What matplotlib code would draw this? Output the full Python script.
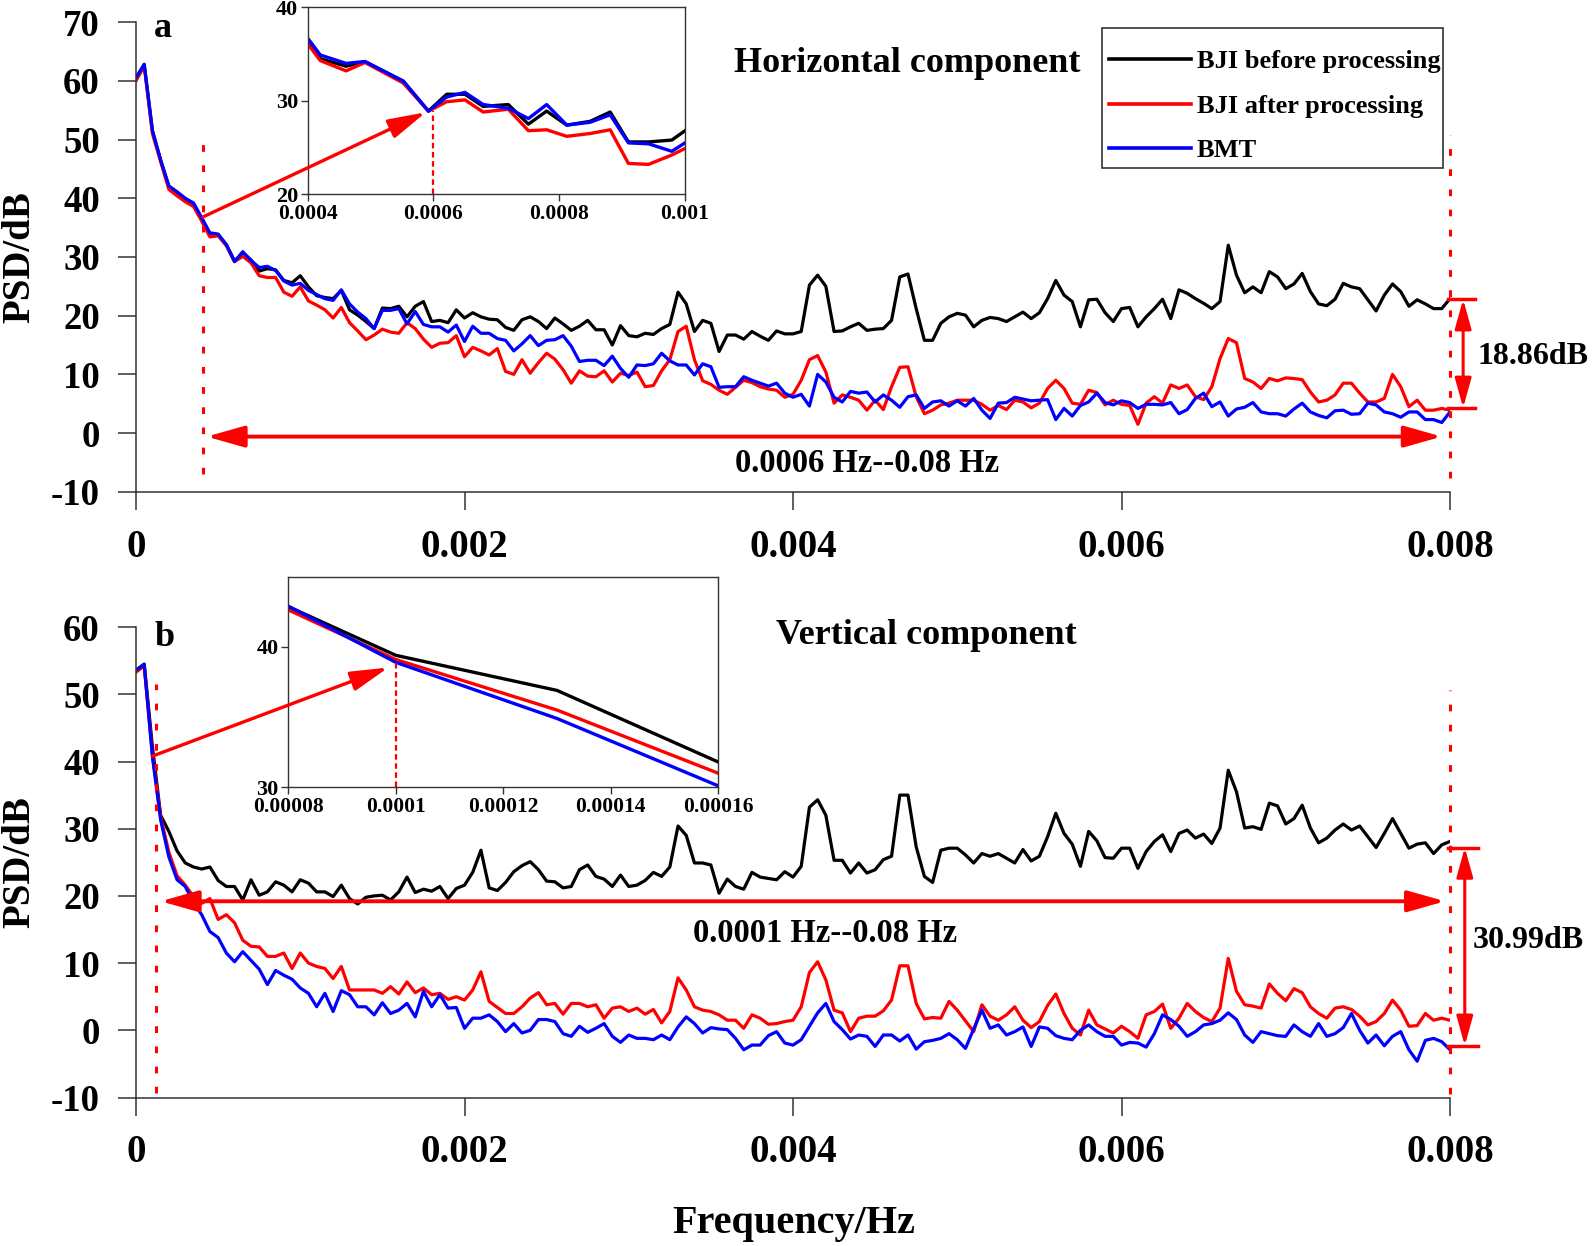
import numpy as np
import matplotlib
matplotlib.use('Agg')
import matplotlib.pyplot as plt
from matplotlib.patches import ConnectionPatch, FancyArrowPatch, Rectangle
from matplotlib.lines import Line2D

plt.rcParams['font.family'] = ['Liberation Serif', 'DejaVu Serif']
plt.rcParams['font.weight'] = 'bold'
plt.rcParams['axes.labelweight'] = 'bold'

# ---------------- data ----------------
FREQ_STEP = 0.00005  # Hz between spectral points

series_labels = ['BJI before processing', 'BJI after processing', 'BMT']

# Panel a: horizontal component
h_before = [
    60.5, 62.8, 51.5, 46.5, 42.0, 41.0, 39.8, 39.0, 36.5, 33.8,
    33.8, 32.1, 29.3, 30.7, 29.5, 27.6, 28.0, 27.8, 26.0, 25.6,
    26.8, 24.9, 23.4, 23.1, 22.9, 24.3, 21.0, 20.1, 19.0, 17.8,
    21.3, 21.2, 21.6, 19.8, 21.6, 22.4, 19.0, 19.2, 18.8, 21.0,
    19.6, 20.5, 19.8, 19.4, 19.3, 18.0, 17.5, 19.3, 19.8, 19.0,
    17.8, 19.6, 18.6, 17.5, 18.2, 19.2, 17.6, 17.6, 15.0, 18.3,
    16.6, 16.4, 17.0, 16.8, 17.8, 18.5, 24.0, 22.0, 17.3, 19.2,
    18.7, 13.9, 16.7, 16.7, 16.0, 17.3, 16.5, 15.8, 17.4, 16.9,
    16.9, 17.3, 25.2, 26.9, 25.0, 17.3, 17.4, 18.1, 18.7, 17.5,
    17.7, 17.8, 19.2, 26.6, 27.1, 21.2, 15.8, 15.8, 18.7, 19.8,
    20.4, 20.1, 18.1, 19.2, 19.7, 19.5, 19.0, 19.8, 20.6, 19.5,
    20.5, 22.9, 26.0, 23.5, 22.4, 18.1, 22.7, 22.8, 20.5, 19.0,
    21.2, 21.4, 18.1, 19.8, 21.2, 22.8, 19.5, 24.4, 23.8, 22.9,
    22.1, 21.2, 22.4, 32.0, 26.9, 23.9, 24.9, 23.9, 27.5, 26.6,
    24.6, 25.4, 27.2, 24.1, 22.0, 21.7, 22.8, 25.5, 24.9, 24.6,
    22.7, 20.8, 23.5, 25.4, 24.1, 21.6, 22.7, 22.0, 21.2, 21.2,
    22.9]
h_after = [
    60.0, 62.5, 51.0, 46.2, 41.5, 40.4, 39.4, 38.6, 36.1, 33.4,
    33.6, 31.9, 29.2, 30.1, 29.0, 26.8, 26.5, 26.5, 24.0, 23.3,
    24.9, 22.5, 21.8, 21.0, 19.6, 21.4, 18.8, 17.4, 15.9, 16.7,
    17.7, 17.2, 17.0, 18.8, 17.8, 16.0, 14.6, 15.3, 15.4, 16.6,
    13.0, 14.6, 14.0, 13.3, 14.4, 10.5, 10.0, 12.5, 10.2, 12.0,
    13.6, 12.6, 10.8, 8.5, 10.6, 9.7, 9.6, 10.6, 8.7, 10.2,
    9.8, 10.4, 7.9, 8.1, 10.6, 12.5, 17.3, 18.2, 12.5, 8.9,
    8.3, 7.3, 6.6, 7.8, 9.0, 8.6, 7.9, 7.5, 7.3, 6.1,
    6.6, 9.0, 12.5, 13.2, 10.4, 5.1, 6.5, 6.1, 5.6, 3.9,
    5.6, 4.0, 7.9, 11.2, 11.3, 6.2, 3.3, 3.9, 4.8, 5.1,
    5.6, 5.6, 5.6, 4.9, 3.9, 4.7, 4.0, 5.6, 5.3, 4.3,
    5.1, 7.6, 9.0, 7.6, 5.1, 4.9, 7.3, 6.9, 4.8, 5.6,
    4.9, 4.7, 1.5, 5.1, 6.2, 5.1, 8.2, 7.6, 8.2, 6.2,
    5.7, 7.9, 12.7, 16.1, 15.4, 9.3, 8.7, 7.6, 9.3, 8.9,
    9.4, 9.3, 9.1, 7.0, 5.3, 5.6, 6.5, 8.5, 8.5, 6.8,
    5.3, 5.3, 5.9, 10.0, 7.9, 4.5, 5.6, 3.9, 3.9, 4.2,
    3.9]
h_bmt = [
    60.5, 62.8, 51.5, 46.5, 42.1, 41.1, 40.0, 39.2, 36.7, 34.1,
    33.9, 32.1, 29.2, 30.9, 29.4, 28.2, 28.4, 27.7, 25.9, 25.2,
    25.5, 24.3, 23.6, 22.9, 22.6, 24.4, 22.0, 20.6, 19.5, 17.8,
    20.9, 20.9, 21.2, 18.6, 20.7, 18.5, 18.1, 18.1, 17.2, 18.4,
    15.6, 18.2, 17.0, 17.0, 16.1, 15.8, 14.0, 15.2, 16.6, 14.9,
    15.8, 15.9, 16.6, 14.8, 12.2, 12.4, 12.4, 11.5, 13.1, 11.0,
    9.5, 11.6, 11.5, 11.8, 13.6, 12.3, 11.6, 11.6, 9.9, 11.8,
    11.3, 7.8, 7.9, 7.9, 9.6, 9.0, 8.5, 8.0, 8.5, 6.8,
    6.1, 6.6, 4.6, 10.0, 8.7, 6.1, 5.3, 7.1, 6.8, 7.0,
    5.3, 6.5, 5.6, 4.4, 6.2, 6.5, 4.2, 5.3, 5.5, 4.6,
    5.5, 4.6, 5.9, 3.9, 2.5, 5.1, 5.2, 6.1, 5.8, 5.5,
    5.6, 5.7, 2.3, 4.2, 2.9, 4.7, 5.3, 6.8, 5.2, 4.8,
    5.5, 5.2, 4.2, 4.9, 4.9, 4.8, 5.2, 3.3, 4.0, 5.9,
    6.8, 4.5, 5.3, 2.9, 4.1, 4.4, 5.2, 3.6, 3.3, 3.3,
    2.9, 4.1, 5.1, 3.6, 3.0, 2.6, 3.8, 3.9, 3.2, 3.3,
    5.1, 4.8, 3.6, 3.3, 2.7, 3.6, 3.6, 2.3, 2.3, 1.8,
    3.6]

# Panel b: vertical component
v_before = [
    53.6, 54.5, 42.2, 32.0, 29.6, 26.7, 24.9, 24.3, 24.0, 24.3,
    22.3, 21.4, 21.4, 19.4, 22.4, 20.1, 20.6, 22.1, 21.6, 20.6,
    22.4, 21.9, 20.6, 20.6, 19.9, 21.6, 19.6, 18.8, 19.8, 20.0,
    20.1, 19.4, 20.6, 22.8, 20.5, 21.0, 20.7, 21.4, 19.6, 21.1,
    21.6, 23.5, 26.8, 21.2, 20.8, 22.0, 23.6, 24.5, 25.1, 23.9,
    22.2, 22.1, 21.2, 21.4, 23.9, 24.6, 22.9, 22.5, 21.4, 23.1,
    21.4, 21.6, 22.3, 23.5, 22.9, 24.3, 30.4, 29.0, 24.9, 24.9,
    24.6, 20.4, 22.5, 21.4, 21.0, 23.5, 22.8, 22.6, 22.4, 23.6,
    22.8, 24.4, 33.2, 34.3, 32.0, 25.3, 25.3, 23.4, 24.9, 23.4,
    23.9, 25.4, 25.9, 35.0, 35.0, 27.3, 22.9, 22.0, 26.8, 27.1,
    27.1, 26.1, 24.9, 26.3, 25.9, 26.3, 25.6, 24.9, 26.9, 25.2,
    25.9, 28.8, 32.3, 29.3, 27.7, 24.4, 29.6, 28.2, 25.7, 25.6,
    27.1, 27.1, 24.1, 26.6, 28.1, 29.1, 26.6, 29.3, 29.8, 28.6,
    29.2, 27.8, 30.1, 38.7, 35.5, 30.1, 30.3, 29.9, 33.8, 33.4,
    30.7, 31.5, 33.5, 30.1, 27.9, 28.6, 29.8, 30.7, 29.8, 30.4,
    28.8, 27.2, 29.3, 31.5, 29.3, 27.1, 27.7, 27.9, 26.3, 27.6,
    28.1]
v_after = [
    53.3, 54.2, 41.0, 31.8, 26.5, 23.0, 21.6, 19.9, 18.9, 19.6,
    16.5, 17.2, 16.0, 13.4, 12.5, 12.4, 11.0, 11.0, 11.5, 9.2,
    11.5, 10.0, 9.5, 9.2, 7.7, 9.5, 6.0, 6.0, 6.0, 6.0,
    5.5, 6.5, 5.4, 7.2, 5.6, 6.3, 5.3, 5.5, 4.6, 5.0,
    4.5, 6.0, 8.7, 4.3, 3.4, 2.5, 2.5, 3.5, 4.8, 5.6,
    3.8, 4.0, 2.4, 4.0, 4.0, 3.5, 3.8, 1.8, 3.3, 3.5,
    2.8, 3.3, 2.4, 3.1, 1.1, 2.8, 7.8, 6.0, 3.5, 3.0,
    2.8, 2.3, 1.5, 1.5, 0.3, 2.3, 1.8, 0.9, 1.0, 1.3,
    1.5, 3.5, 8.6, 10.2, 7.5, 3.0, 2.6, -0.2, 1.8, 2.1,
    2.1, 2.9, 4.5, 9.6, 9.6, 4.0, 1.7, 1.9, 1.8, 4.3,
    3.0, 1.4, -0.2, 3.8, 2.1, 1.5, 2.3, 3.5, 1.5, 0.4,
    1.3, 3.7, 5.4, 2.5, 0.3, -0.7, 3.0, 0.8, 0.2, -0.4,
    0.6, -0.2, -1.2, 2.3, 2.8, 3.9, 0.3, 1.8, 4.0, 2.8,
    1.9, 1.3, 3.3, 10.7, 5.8, 3.8, 3.6, 3.3, 6.9, 5.5,
    4.4, 6.2, 5.6, 3.5, 2.5, 1.8, 3.3, 3.5, 3.1, 2.1,
    0.8, 1.3, 2.5, 4.5, 3.0, 0.6, 0.7, 2.5, 1.5, 1.8,
    1.5]
v_bmt = [
    53.6, 54.4, 40.7, 31.3, 25.8, 22.4, 21.4, 19.0, 17.2, 14.7,
    13.8, 11.5, 10.2, 11.7, 10.4, 9.1, 6.8, 8.9, 8.2, 7.6,
    6.3, 5.5, 3.5, 5.5, 2.8, 5.9, 5.3, 3.5, 3.5, 2.3,
    4.1, 2.5, 3.0, 4.0, 2.0, 5.8, 3.5, 5.3, 3.3, 3.4,
    0.3, 1.8, 1.8, 2.3, 1.3, -0.2, 1.0, -0.4, 0.0, 1.6,
    1.6, 1.3, -0.5, -0.9, 0.6, -0.3, 0.3, 1.0, -0.9, -1.8,
    -0.7, -1.2, -1.2, -1.4, -0.7, -1.4, 0.5, 2.0, 1.0, -0.4,
    0.4, 0.2, 0.1, -1.2, -2.9, -2.2, -2.2, -0.8, -0.2, -1.9,
    -2.2, -1.4, 0.6, 2.6, 4.0, 1.3, 0.1, -1.3, -0.7, -0.9,
    -2.4, -0.7, -0.7, -1.6, -0.7, -2.8, -1.7, -1.5, -1.2, -0.5,
    -1.4, -2.7, 0.2, 3.0, 0.3, 0.8, -0.7, -0.2, 0.5, -2.4,
    0.5, 0.3, -0.8, -1.2, -1.4, 0.0, 0.8, -0.2, -0.9, -0.9,
    -2.2, -1.8, -1.9, -2.5, -0.5, 2.3, 1.6, 0.6, -0.9, -0.2,
    0.8, 1.0, 1.5, 2.6, 1.6, -0.7, -1.8, -0.2, -0.5, -0.8,
    -0.9, 0.8, -0.2, -0.9, 1.0, -0.9, -0.5, 0.4, 2.5, 0.0,
    -1.9, -0.7, -2.3, -0.9, -0.2, -2.9, -4.6, -1.5, -1.2, -1.7,
    -2.9]

# Inset a (0.0004-0.001 Hz, horizontal)
ins_a_freq = [0.0004, 0.00042, 0.000461, 0.000491, 0.000552, 0.000592, 0.000621,
              0.00065, 0.000679, 0.000719, 0.000751, 0.00078, 0.000812, 0.000849,
              0.000881, 0.00091, 0.000942, 0.000979, 0.001]
ins_a_before = [36.5, 34.5, 33.7, 34.2, 32.1, 28.9, 30.7, 30.7, 29.4, 29.6,
                27.5, 28.9, 27.4, 27.8, 28.8, 25.6, 25.6, 25.8, 26.8]
ins_a_after = [36.1, 34.3, 33.2, 34.1, 31.9, 28.9, 29.9, 30.1, 28.8, 29.1,
               26.8, 26.9, 26.2, 26.5, 26.9, 23.3, 23.2, 24.2, 24.9]
ins_a_bmt = [36.7, 34.9, 34.0, 34.2, 32.1, 28.9, 30.4, 30.9, 29.6, 29.2,
             28.1, 29.6, 27.4, 27.7, 28.5, 25.5, 25.4, 24.6, 25.5]

# Inset b (0.00008-0.00016 Hz, vertical)
ins_b_freq = [0.00007, 0.0001, 0.00013, 0.00016]
ins_b_before = [44.6, 39.4, 36.9, 31.8]
ins_b_after = [44.4, 39.1, 35.5, 31.0]
ins_b_bmt = [44.9, 38.9, 34.9, 30.1]

main_xticks = [0, 0.002, 0.004, 0.006, 0.008]
main_xticklabels = ['0', '0.002', '0.004', '0.006', '0.008']
a_yticks = [-10, 0, 10, 20, 30, 40, 50, 60, 70]
a_yticklabels = ['-10', '0', '10', '20', '30', '40', '50', '60', '70']
b_yticks = [-10, 0, 10, 20, 30, 40, 50, 60]
b_yticklabels = ['-10', '0', '10', '20', '30', '40', '50', '60']
ins_a_xticks = [0.0004, 0.0006, 0.0008, 0.001]
ins_a_xticklabels = ['0.0004', '0.0006', '0.0008', '0.001']
ins_a_yticks = [20, 30, 40]
ins_b_xticks = [0.00008, 0.0001, 0.00012, 0.00014, 0.00016]
ins_b_xticklabels = ['0.00008', '0.0001', '0.00012', '0.00014', '0.00016']
ins_b_yticks = [30, 40]

# ---------------- layout ----------------
W, H = 1593, 1246
fig = plt.figure(figsize=(W / 100, H / 100), dpi=100)


def fx(px):
    return px / W


def fy(py):
    return 1 - py / H


def rect(x0, y0, x1, y1):
    return [fx(x0), fy(y1), (x1 - x0) / W, (y1 - y0) / H]


axA = fig.add_axes(rect(136, 22.1, 1450, 491.8))
axB = fig.add_axes(rect(136, 627.1, 1450, 1097.5))

COLORS = ['black', 'red', 'blue']
SPINE = '#333333'
RED = '#ff0000'


def style_main(ax, ylim, yticks, ylabels):
    ax.set_xlim(0, 0.008)
    ax.set_ylim(*ylim)
    for s in ['top', 'right']:
        ax.spines[s].set_visible(False)
    for s in ['left', 'bottom']:
        ax.spines[s].set_linewidth(1.1)
        ax.spines[s].set_color(SPINE)
    ax.set_xticks(main_xticks)
    ax.set_xticklabels(main_xticklabels, fontsize=28, fontweight='bold')
    ax.set_yticks(yticks)
    ax.set_yticklabels(ylabels, fontsize=26.5, fontweight='bold')
    ax.tick_params(axis='both', direction='out', length=13, width=1.1, color=SPINE)
    ax.tick_params(axis='y', pad=13)
    ax.tick_params(axis='x', pad=13.5)
    ax.set_ylabel('PSD/dB', fontsize=28, fontweight='bold', labelpad=9)


def style_inset(ax, xlim, ylim, xt, xtl, yt):
    ax.set_xlim(*xlim)
    ax.set_ylim(*ylim)
    for s in ax.spines.values():
        s.set_linewidth(1.0)
        s.set_color(SPINE)
    ax.set_xticks(xt)
    ax.set_xticklabels(xtl, fontsize=15.5, fontweight='bold')
    ax.set_yticks(yt)
    ax.set_yticklabels([str(v) for v in yt], fontsize=16, fontweight='bold')
    ax.tick_params(axis='both', direction='out', length=5, width=1.0, color=SPINE, pad=2)


def red_arrow(p0, p1, style, lw, hl, hw, trans, shrinkB=0):
    a = FancyArrowPatch(p0, p1, transform=trans,
                        arrowstyle=f'{style},head_length={hl},head_width={hw}',
                        mutation_scale=1, color=RED, lw=lw, shrinkA=0, shrinkB=shrinkB,
                        clip_on=False, zorder=5)
    return a


DOT = (0, (2.2, 4.4))

# ---------------- panel a ----------------
lines = []
for ser, c in zip([h_before, h_after, h_bmt], COLORS):
    ln, = axA.plot(np.arange(len(ser)) * FREQ_STEP, ser, color=c, lw=2.3)
    lines.append(ln)
style_main(axA, (-10, 70), a_yticks, a_yticklabels)

axA.plot([0.000407, 0.000407], [-7.0, 50.7], color=RED, lw=2.2, ls=DOT, clip_on=False)
axA.plot([0.008, 0.008], [-7.7, 50.7], color=RED, lw=2.2, ls=DOT, clip_on=False)
axA.add_patch(red_arrow((0.00043, -0.6), (0.00795, -0.6), '<|-|>', 2.8, 23, 6.5, axA.transData))
# 18.86 dB marker
axA.plot([0.00799, 0.00815], [22.8, 22.8], color=RED, lw=2.5, clip_on=False)
axA.plot([0.00799, 0.00815], [4.3, 4.3], color=RED, lw=2.5, clip_on=False)
axA.add_patch(red_arrow((0.00808, 22.8), (0.00808, 4.3), '<|-|>', 2.2, 18, 5, axA.transData))

fig.text(fx(162.5), fy(28.4), 'a', fontsize=26, fontweight='bold', ha='center', va='center')
fig.text(fx(907), fy(64), 'Horizontal component', fontsize=26, fontweight='bold',
         ha='center', va='center')
fig.text(fx(867), fy(463), '0.0006 Hz--0.08 Hz', fontsize=23.5, fontweight='bold',
         ha='center', va='center')
fig.text(fx(1478), fy(356), '18.86dB', fontsize=23, fontweight='bold', ha='left', va='center')

# legend box (drawn in figure pixel positions)
fig.add_artist(Rectangle((fx(1102), fy(167.6)), (1443 - 1102) / W, (167.6 - 28.5) / H,
                         transform=fig.transFigure, facecolor='white', edgecolor=SPINE,
                         lw=1.2, zorder=7))
for i, (lab, c) in enumerate(zip(series_labels, COLORS)):
    yy = fy(59 + i * 44.7)
    fig.add_artist(Line2D([fx(1109), fx(1191)], [yy, yy], transform=fig.transFigure,
                          color=c, lw=2.6, zorder=8))
    fig.text(fx(1197), fy(61.5 + i * 44.7), lab, fontsize=19, fontweight='bold',
             ha='left', va='center', zorder=8)

insA = fig.add_axes(rect(307.7, 7.3, 685, 194.3))
for ser, c in zip([ins_a_before, ins_a_after, ins_a_bmt], COLORS):
    insA.plot(ins_a_freq, ser, color=c, lw=2.4)
style_inset(insA, (0.0004, 0.001), (20, 40), ins_a_xticks, ins_a_xticklabels, ins_a_yticks)
insA.plot([0.0006, 0.0006], [20, 28.9], color=RED, lw=1.6, ls=(0, (2.5, 1.6)))

conA = ConnectionPatch(xyA=(0.000407, 36.8), coordsA=axA.transData,
                       xyB=(0.000592, 28.9), coordsB=insA.transData,
                       arrowstyle='-|>,head_length=23,head_width=6', mutation_scale=1,
                       color=RED, lw=2.4, shrinkA=0, shrinkB=2, zorder=6)
fig.add_artist(conA)

# ---------------- panel b ----------------
for ser, c in zip([v_before, v_after, v_bmt], COLORS):
    axB.plot(np.arange(len(ser)) * FREQ_STEP, ser, color=c, lw=2.3)
style_main(axB, (-10, 60), b_yticks, b_yticklabels)

axB.plot([0.00012, 0.00012], [-9.3, 51.5], color=RED, lw=2.2, ls=DOT, clip_on=False)
axB.plot([0.008, 0.008], [-9.5, 50.6], color=RED, lw=2.2, ls=DOT, clip_on=False)
axB.add_patch(red_arrow((0.00015, 19.2), (0.00797, 19.2), '<|-|>', 2.8, 23, 6.5, axB.transData))
# 30.99 dB marker
axB.plot([0.00799, 0.00817], [27.2, 27.2], color=RED, lw=2.5, clip_on=False)
axB.plot([0.00799, 0.00817], [-2.3, -2.3], color=RED, lw=2.5, clip_on=False)
axB.add_patch(red_arrow((0.00809, 27.2), (0.00809, -2.3), '<|-|>', 2.2, 18, 5, axB.transData))

fig.text(fx(164.6), fy(637), 'b', fontsize=26, fontweight='bold', ha='center', va='center')
fig.text(fx(926.6), fy(636), 'Vertical component', fontsize=26, fontweight='bold',
         ha='center', va='center')
fig.text(fx(825), fy(934), '0.0001 Hz--0.08 Hz', fontsize=23.5, fontweight='bold',
         ha='center', va='center')
fig.text(fx(1473), fy(940), '30.99dB', fontsize=23, fontweight='bold', ha='left', va='center')

insB = fig.add_axes(rect(288.3, 576.7, 718.3, 787.3))
for ser, c in zip([ins_b_before, ins_b_after, ins_b_bmt], COLORS):
    insB.plot(ins_b_freq, ser, color=c, lw=2.4)
style_inset(insB, (0.00008, 0.00016), (30, 45), ins_b_xticks, ins_b_xticklabels, ins_b_yticks)
insB.plot([0.0001, 0.0001], [30, 39.2], color=RED, lw=1.6, ls=(0, (2.5, 1.6)))

conB = ConnectionPatch(xyA=(0.0001, 40.8), coordsA=axB.transData,
                       xyB=(0.0000991, 38.6), coordsB=insB.transData,
                       arrowstyle='-|>,head_length=23,head_width=6', mutation_scale=1,
                       color=RED, lw=2.4, shrinkA=0, shrinkB=2, zorder=6)
fig.add_artist(conB)

fig.text(fx(794), fy(1223), 'Frequency/Hz', fontsize=29, fontweight='bold',
         ha='center', va='center')

fig.savefig('out.png', dpi=100)
